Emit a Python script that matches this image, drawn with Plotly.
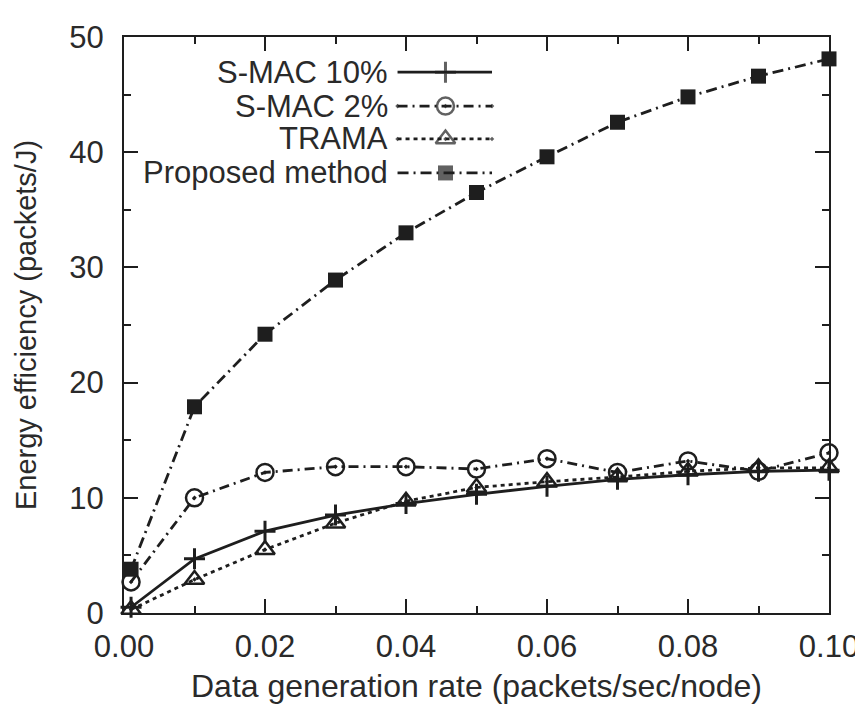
import plotly.graph_objects as go

rate = [0.001, 0.01, 0.02, 0.03, 0.04, 0.05, 0.06, 0.07, 0.08, 0.09, 0.10]
smac10 = [0.5, 4.7, 7.1, 8.5, 9.5, 10.3, 11.0, 11.6, 12.0, 12.3, 12.4]
smac2 = [2.7, 10.0, 12.2, 12.7, 12.7, 12.5, 13.4, 12.2, 13.2, 12.3, 13.9]
trama = [0.3, 2.9, 5.5, 7.8, 9.7, 10.9, 11.4, 11.8, 12.3, 12.6, 12.6]
proposed = [3.8, 17.9, 24.2, 28.9, 33.0, 36.5, 39.6, 42.6, 44.8, 46.6, 48.1]

names = ["S-MAC 10%", "S-MAC 2%", "TRAMA", "Proposed method"]
x_ticks = [0.00, 0.02, 0.04, 0.06, 0.08, 0.10]
x_ticklabels = ["0.00", "0.02", "0.04", "0.06", "0.08", "0.10"]
y_ticks = [0, 10, 20, 30, 40, 50]

INK = "#1e1e1e"
TXT = "#2a2a2a"
FONT = "Liberation Sans, Arial, sans-serif"

styles = [
    dict(dash="solid", symbol="cross-thin-open", size=15, mw=3),
    dict(dash="10px,5px,2px,5px", symbol="circle-open-dot", size=17, mw=2.5),
    dict(dash="4px,4px", symbol="triangle-up-open-dot", size=17, mw=2.5),
    dict(dash="11px,5px,2px,5px", symbol="square", size=15, mw=0),
]
series = [smac10, smac2, trama, proposed]

fig = go.Figure()
for name, ys, st in zip(names, series, styles):
    fig.add_trace(go.Scatter(
        x=rate, y=ys, name=name, mode="lines+markers",
        line=dict(color=INK, width=2.8, dash=st["dash"]),
        marker=dict(symbol=st["symbol"], size=st["size"], color=INK,
                    line=dict(color=INK, width=st["mw"])),
        cliponaxis=False, showlegend=False,
    ))

# custom legend (labels right-aligned, samples on the right)
leg_x = [0.388, 0.456, 0.522]
leg_y = [0.939, 0.880, 0.823, 0.764]
for name, st, ly in zip(names, styles, leg_y):
    fig.add_trace(go.Scatter(
        x=leg_x, y=[ly] * 3, xaxis="x2", yaxis="y2", mode="lines+markers",
        line=dict(color=INK, width=2.8, dash=st["dash"]),
        marker=dict(symbol=st["symbol"], size=[0, st["size"], 0], color=INK,
                    line=dict(color=INK, width=st["mw"])),
        showlegend=False, hoverinfo="skip", cliponaxis=False,
    ))
    fig.add_annotation(x=0.376, y=ly, xref="x2", yref="y2", text=name,
                       showarrow=False, xanchor="right", yanchor="middle",
                       borderpad=0,
                       font=dict(size=31, color=TXT, family=FONT))

axis_common = dict(
    showgrid=False, zeroline=False, showline=True, linecolor=INK, linewidth=2,
    mirror="allticks", ticks="inside", tickcolor=INK, tickwidth=2, ticklen=14,
    tickfont=dict(size=31, color=TXT, family=FONT),
)

fig.update_layout(
    width=863, height=706,
    margin=dict(l=116, r=34, t=28, b=101),
    paper_bgcolor="white", plot_bgcolor="white",
    font=dict(family=FONT, color=TXT, size=30),
    xaxis=dict(range=[0, 0.10], tickvals=x_ticks, ticktext=x_ticklabels,
               ticklabelstandoff=5,
               title=dict(text="Data generation rate (packets/sec/node)",
                          font=dict(size=32, color=TXT, family=FONT), standoff=11),
               minor=dict(dtick=0.01, tick0=0, ticks="inside", ticklen=7,
                          tickwidth=2, tickcolor=INK),
               **axis_common),
    yaxis=dict(range=[0, 50], tickvals=y_ticks, ticklabelstandoff=12,
               title=dict(text="Energy efficiency (packets/J)",
                          font=dict(size=29, color=TXT, family=FONT), standoff=24),
               minor=dict(dtick=5, tick0=0, ticks="inside", ticklen=7,
                          tickwidth=2, tickcolor=INK),
               **axis_common),
    xaxis2=dict(overlaying="x", range=[0, 1], visible=False, fixedrange=True),
    yaxis2=dict(overlaying="y", range=[0, 1], visible=False, fixedrange=True),
)

fig.write_html("out.html")
